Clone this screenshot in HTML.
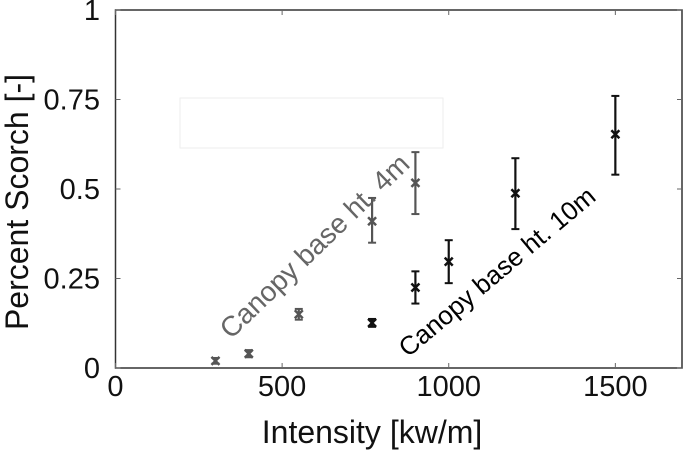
<!DOCTYPE html>
<html><head><meta charset="utf-8"><style>
body{margin:0;background:#fff}
svg{display:block;font-family:"Liberation Sans","DejaVu Sans",sans-serif}
</style></head><body>
<svg id="chart" width="685" height="450" viewBox="0 0 685 450"></svg>
<script>
const xTicks=[0,500,1000,1500];
const yTicks=[0,0.25,0.5,0.75,1];
const yTickLabels=["0","0.25","0.5","0.75","1"];
const s4x=[300,400,550,770,900];
const s4y=[0.02,0.04,0.15,0.41,0.517];
const s4lo=[0.012,0.03,0.135,0.35,0.43];
const s4hi=[0.028,0.05,0.165,0.475,0.603];
const s10x=[770,900,1000,1200,1500];
const s10y=[0.126,0.225,0.297,0.488,0.653];
const s10lo=[0.115,0.18,0.237,0.388,0.54];
const s10hi=[0.137,0.27,0.357,0.586,0.76];

const L=115.5,R=682,T=10,B=368,XMAX=1700;
const sx=v=>L+v/XMAX*(R-L);
const sy=v=>B-v*(B-T);
const NS="http://www.w3.org/2000/svg";
const svg=document.getElementById('chart');
function mk(t,a,p){const e=document.createElementNS(NS,t);for(const k in a)e.setAttribute(k,a[k]);(p||svg).appendChild(e);return e;}

const fr=mk('rect',{x:180,y:98,width:263,height:50,fill:'none',stroke:'#eee','stroke-width':1});



const fb=mk('rect',{x:L,y:T,width:R-L,height:B-T,fill:'none',stroke:'#333','stroke-width':1.5});



xTicks.forEach(v=>{
  const x=sx(v);
  mk('line',{x1:x,y1:B,x2:x,y2:B-5,stroke:'#666','stroke-width':1});
  mk('line',{x1:x,y1:T,x2:x,y2:T+5,stroke:'#666','stroke-width':1});
  const t=mk('text',{x:x,y:396,'text-anchor':'middle','font-size':29,fill:'#111'});
  t.textContent=v;
  
  
});
yTicks.forEach((v,i)=>{
  const y=sy(v);
  mk('line',{x1:L,y1:y,x2:L+5,y2:y,stroke:'#666','stroke-width':1});
  mk('line',{x1:R,y1:y,x2:R-5,y2:y,stroke:'#666','stroke-width':1});
  const t=mk('text',{x:100,y:y+10,'text-anchor':'end','font-size':29,fill:'#111'});
  t.textContent=yTickLabels[i];
  
  
});

function series(xs,ys,lo,hi,col,name){
  const g=mk('g',{});
  
  
  xs.forEach((xv,i)=>{
    const x=sx(xv),y=sy(ys[i]),y1=sy(lo[i]),y2=sy(hi[i]);
    mk('line',{x1:x,y1:y1,x2:x,y2:y2,stroke:col,'stroke-width':2.2},g);
    mk('line',{x1:x-4,y1:y1,x2:x+4,y2:y1,stroke:col,'stroke-width':2},g);
    mk('line',{x1:x-4,y1:y2,x2:x+4,y2:y2,stroke:col,'stroke-width':2},g);
    mk('path',{d:`M${x-4} ${y-4}L${x+4} ${y+4}M${x-4} ${y+4}L${x+4} ${y-4}`,stroke:col,'stroke-width':2.5},g);
  });
}
series(s4x,s4y,s4lo,s4hi,'#555','series-4m');
series(s10x,s10y,s10lo,s10hi,'#111','series-10m');

function txt(s,a,name){const e=document.createElementNS(NS,'text');for(const k in a)e.setAttribute(k,a[k]);e.textContent=s;


svg.appendChild(e);}
txt('Canopy base ht. 4m',{x:0,y:0,'font-size':28,fill:'#666',transform:'translate(231,340) rotate(-44)'},'label-4m');
txt('Canopy base ht. 10m',{x:0,y:0,'font-size':26,fill:'#000',transform:'translate(408,358) rotate(-40)'},'label-10m');
txt('Intensity [kw/m]',{x:372,y:443,'text-anchor':'middle','font-size':32,fill:'#111'},'x-axis-title');
txt('Percent Scorch [-]',{x:0,y:0,'text-anchor':'middle','font-size':32,fill:'#111',transform:'translate(28,202) rotate(-90)'},'y-axis-title');
</script>
</body></html>
